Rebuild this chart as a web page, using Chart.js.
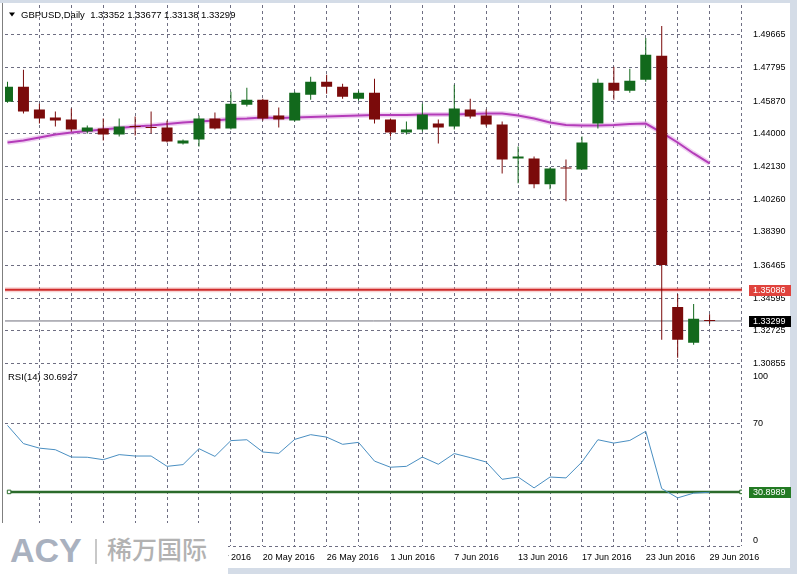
<!DOCTYPE html>
<html>
<head>
<meta charset="utf-8">
<title>GBPUSD Daily</title>
<script src="https://cdn.jsdelivr.net/npm/chart.js@4.4.1/dist/chart.umd.min.js"></script>
<style>
  html, body { margin: 0; padding: 0; background: #fff; }
  #wrap { position: relative; width: 797px; height: 574px; overflow: hidden; }
  #wrap canvas { position: absolute; left: 0; top: 0; }
  #logo { position: absolute; left: 0; top: 523px; width: 228px; height: 51px; background: #fff; }
  #logo .acy { position: absolute; left: 10px; top: 10px; font: bold 34px "Liberation Sans", Arial, sans-serif; line-height: 34px; color: #a9b1bf; }
  #logo .sep { position: absolute; left: 95px; top: 16px; width: 2px; height: 25px; background: #c8c8c8; }
  #logo .cn { position: absolute; left: 107px; top: 13px; font: 500 25px "Noto Sans CJK SC", sans-serif; line-height: 25px; color: #b2b2b2; }
</style>
</head>
<body>
<div id="wrap">
  <canvas id="chartGbp" width="797" height="574"></canvas>
  <div id="logo"><span class="acy">ACY</span><span class="sep"></span><span class="cn">稀万国际</span></div>
</div>
<script>
const symbol = "GBPUSD";
const period = "Daily";

const dates = [
    "28 Apr", "29 Apr", "2 May", "3 May", "4 May", "5 May", "6 May", "9 May", "10 May", "11 May",
    "12 May", "13 May", "16 May", "17 May", "18 May", "19 May", "20 May", "23 May", "24 May", "25 May",
    "26 May", "27 May", "30 May", "31 May", "1 Jun", "2 Jun", "3 Jun", "6 Jun", "7 Jun", "8 Jun",
    "9 Jun", "10 Jun", "13 Jun", "14 Jun", "15 Jun", "16 Jun", "17 Jun", "20 Jun", "21 Jun", "22 Jun",
    "23 Jun", "24 Jun", "27 Jun", "28 Jun", "29 Jun",
];

const opens = [
    1.45846, 1.46701, 1.4539, 1.44934, 1.4482, 1.44136, 1.44307, 1.43965, 1.44421, 1.44364,
    1.44364, 1.43452, 1.4368, 1.44877, 1.44307, 1.45675, 1.4596, 1.45048, 1.44763, 1.46245,
    1.46986, 1.46701, 1.46017, 1.46359, 1.4482, 1.44079, 1.4425, 1.44592, 1.44421, 1.4539,
    1.45048, 1.44535, 1.42597, 1.42597, 1.41115, 1.4204, 1.4197, 1.44592, 1.46929, 1.46473,
    1.471, 1.48468, 1.34104, 1.32052, 1.33352,
];
const highs = [
    1.46986, 1.4767, 1.45732, 1.45276, 1.45447, 1.44478, 1.44877, 1.44877, 1.44991, 1.45276,
    1.44763, 1.4368, 1.45048, 1.45219, 1.46416, 1.46644, 1.46017, 1.45504, 1.46416, 1.47271,
    1.47385, 1.46872, 1.46473, 1.47157, 1.44877, 1.44706, 1.45732, 1.4482, 1.46815, 1.46017,
    1.4539, 1.44706, 1.43281, 1.42711, 1.42084, 1.4254, 1.43851, 1.47157, 1.47841, 1.47727,
    1.49494, 1.50178, 1.34845, 1.34275, 1.33677,
];
const lows = [
    1.45789, 1.45162, 1.44592, 1.44421, 1.44136, 1.44022, 1.43623, 1.43851, 1.43908, 1.44022,
    1.43509, 1.43395, 1.43281, 1.4425, 1.4425, 1.45561, 1.44763, 1.44364, 1.44706, 1.4596,
    1.46302, 1.46017, 1.45903, 1.44592, 1.43851, 1.43965, 1.44136, 1.43452, 1.4425, 1.44877,
    1.44421, 1.41742, 1.41172, 1.40887, 1.4083, 1.40146, 1.4197, 1.44307, 1.4596, 1.46359,
    1.46986, 1.32223, 1.31197, 1.31938, 1.33138,
];
const closes = [
    1.46701, 1.45276, 1.44877, 1.44763, 1.4425, 1.44364, 1.43965, 1.44421, 1.444, 1.4434,
    1.43566, 1.43623, 1.44877, 1.44307, 1.45732, 1.4596, 1.44877, 1.4482, 1.46359, 1.46986,
    1.46701, 1.46131, 1.46359, 1.4482, 1.44079, 1.4425, 1.45105, 1.44364, 1.45447, 1.44991,
    1.44535, 1.4254, 1.42711, 1.41115, 1.42027, 1.42027, 1.43509, 1.46929, 1.46473, 1.47043,
    1.48525, 1.36498, 1.32223, 1.3342, 1.33299,
];

// moving average line (magenta)
const maValues = [
    1.43509, 1.43623, 1.43794, 1.43965, 1.44079, 1.44165, 1.4425, 1.44336, 1.44421, 1.44478,
    1.44564, 1.44649, 1.44706, 1.44763, 1.44849, 1.44877, 1.44934, 1.44906, 1.44934, 1.44963,
    1.44991, 1.4502, 1.45048, 1.45077, 1.45077, 1.45077, 1.45105, 1.45105, 1.45105, 1.45134,
    1.45162, 1.45162, 1.45048, 1.44877, 1.44649, 1.44507, 1.44478, 1.44478, 1.44507, 1.44564,
    1.44592, 1.44079, 1.43509, 1.42882, 1.42312,
];

const rsiPeriod = 14;
const rsiValues = [
    68.9, 58.5, 55.9, 55.0, 50.8, 50.7, 49.3, 52.2, 51.4, 51.4,
    45.5, 46.5, 55.6, 51.2, 60.2, 60.7, 53.7, 52.9, 60.9, 63.6,
    62.2, 58.1, 59.2, 48.5, 45.0, 45.5, 50.8, 46.7, 52.8, 50.5,
    48.0, 38.1, 39.4, 33.2, 39.4, 38.9, 48.0, 60.7, 58.8, 60.3,
    65.5, 32.8, 27.5, 30.2, 30.6927,
];

const priceTicks = [1.49665, 1.47795, 1.4587, 1.44, 1.4213, 1.4026, 1.3839, 1.36465, 1.34595, 1.32725, 1.30855];
const rsiTicks = [0, 70, 100];
const rsiLevel = 30.8989;
const redLevel = 1.35086;
const lastPrice = closes[closes.length - 1];

const X_MIN = -0.15625;
const X_MAX = 46.03125;
const PRICE_MIN = 1.30684;
const PRICE_MAX = 1.51375;
const RSI_MAX = 102.45;

const upColor = "#12691c";
const downColor = "#7b0b0b";
const gridColor = "#6e6e82";
const labelFont = { family: "Liberation Sans", size: 9 };

document.addEventListener("DOMContentLoaded", () => {
    renderChart();
});

const drawTag = (ctx, y, text, bg, fg) => {
    ctx.fillStyle = bg;
    ctx.fillRect(749, Math.round(y) - 5, 42, 11);
    ctx.fillStyle = fg;
    ctx.font = '9px "Liberation Sans"';
    ctx.textBaseline = "middle";
    ctx.textAlign = "left";
    ctx.fillText(text, 753, Math.round(y) + 0.5);
};

const overlay = {
    id: "overlay",
    beforeDraw(chart) {
        const { ctx, width, height } = chart;
        ctx.save();
        ctx.fillStyle = "#d4dce7";
        ctx.fillRect(0, 0, width, height);
        ctx.fillStyle = "#ffffff";
        ctx.fillRect(0, 3, 790, 565);
        ctx.restore();
    },
    afterDraw(chart) {
        const ctx = chart.ctx;
        const yP = chart.scales.yPrice;
        const yR = chart.scales.yRsi;
        const last = opens.length - 1;
        ctx.save();
        // left frame line
        ctx.fillStyle = "#7f7f7f";
        ctx.fillRect(2, 3, 1, 565);

        // header
        ctx.fillStyle = "#000";
        ctx.beginPath();
        ctx.moveTo(9, 12.5);
        ctx.lineTo(15, 12.5);
        ctx.lineTo(12, 16.5);
        ctx.closePath();
        ctx.fill();
        ctx.font = '9.5px "Liberation Sans"';
        ctx.textBaseline = "middle";
        const ohlc = [opens[last], highs[last], lows[last], closes[last]].map((v) => v.toFixed(5)).join(" ");
        ctx.fillText(`${symbol},${period}  ${ohlc}`, 21, 15);
        ctx.fillText(`RSI(${rsiPeriod}) ${rsiValues[last].toFixed(4)}`, 8, 377);

        // price tags on the axis
        drawTag(ctx, yP.getPixelForValue(redLevel), redLevel.toFixed(5), "#e0433d", "#ffffff");
        drawTag(ctx, yP.getPixelForValue(lastPrice), lastPrice.toFixed(5), "#000000", "#ffffff");
        drawTag(ctx, yR.getPixelForValue(rsiLevel), rsiLevel.toFixed(4), "#237a23", "#ffffff");
        ctx.restore();
    },
};

function renderChart() {
    const canvas = document.getElementById("chartGbp");
    const ctx = canvas.getContext("2d");

    const candleColors = opens.map((o, i) => (closes[i] > o ? upColor : downColor));
    const flatLine = (v) => [{ x: X_MIN, y: v }, { x: X_MAX, y: v }];

    const barBase = {
        type: "bar",
        yAxisID: "yPrice",
        grouped: false,
        borderWidth: 0,
        inflateAmount: 0,
        backgroundColor: candleColors,
    };

    new Chart(ctx, {
        type: "bar",
        data: {
            datasets: [
                {
                    ...barBase,
                    label: "body",
                    data: opens.map((o, i) => ({ x: i, y: [o, closes[i]] })),
                    barThickness: 11,
                    minBarLength: 1,
                    order: 1,
                },
                {
                    ...barBase,
                    label: "wick",
                    data: opens.map((o, i) => ({ x: i, y: [lows[i], highs[i]] })),
                    barThickness: 1,
                    order: 2,
                },
                {
                    type: "line",
                    label: "MA",
                    yAxisID: "yPrice",
                    data: maValues.map((v, i) => ({ x: i, y: v })),
                    borderColor: "#b43cb9",
                    borderWidth: 2,
                    pointRadius: 0,
                    order: 3,
                },
                {
                    type: "line",
                    label: "MA glow",
                    yAxisID: "yPrice",
                    data: maValues.map((v, i) => ({ x: i, y: v })),
                    borderColor: "rgba(220,150,225,0.45)",
                    borderWidth: 5,
                    pointRadius: 0,
                    order: 4,
                },
                {
                    type: "line",
                    label: "level",
                    yAxisID: "yPrice",
                    data: flatLine(redLevel),
                    borderColor: "#cf2b2b",
                    borderWidth: 2,
                    pointRadius: 0,
                    order: 5,
                },
                {
                    type: "line",
                    label: "level glow",
                    yAxisID: "yPrice",
                    data: flatLine(redLevel),
                    borderColor: "rgba(235,130,130,0.35)",
                    borderWidth: 5,
                    pointRadius: 0,
                    order: 6,
                },
                {
                    type: "line",
                    label: "last",
                    yAxisID: "yPrice",
                    data: flatLine(lastPrice),
                    borderColor: "#70707c",
                    borderWidth: 1,
                    pointRadius: 0,
                    order: 5,
                },
                {
                    type: "line",
                    label: "RSI level",
                    yAxisID: "yRsi",
                    data: [{ x: 0.1, y: rsiLevel }, { x: 46, y: rsiLevel }],
                    borderColor: "#2b6b2b",
                    borderWidth: 2.5,
                    pointStyle: "rect",
                    pointRadius: 2.5,
                    pointBackgroundColor: "#ffffff",
                    pointBorderColor: "#2b6b2b",
                    pointBorderWidth: 1,
                    order: 2,
                },
                {
                    type: "line",
                    label: "RSI",
                    yAxisID: "yRsi",
                    data: rsiValues.map((v, i) => ({ x: i, y: v })),
                    borderColor: "#4a8fc2",
                    borderWidth: 1,
                    pointRadius: 0,
                    order: 1,
                },
            ],
        },
        options: {
            responsive: false,
            animation: false,
            devicePixelRatio: 1,
            layout: { padding: { left: 3, top: 3, right: 7, bottom: 6 } },
            plugins: {
                legend: { display: false },
                tooltip: { enabled: false },
            },
            scales: {
                x: {
                    type: "linear",
                    position: "bottom",
                    min: X_MIN,
                    max: X_MAX,
                    offset: false,
                    afterBuildTicks: (scale) => {
                        const ticks = [];
                        for (let v = 2; v <= 46; v += 2) ticks.push({ value: v });
                        scale.ticks = ticks;
                    },
                    afterFit: (scale) => {
                        scale.height = 22;
                        scale.paddingLeft = 0;
                        scale.paddingRight = 0;
                    },
                    ticks: {
                        autoSkip: false,
                        maxRotation: 0,
                        align: "start",
                        padding: 6,
                        color: "#000",
                        font: labelFont,
                        callback: (value) => (value % 4 === 0 && dates[value] ? `${dates[value]} 2016` : ""),
                    },
                    grid: { offset: false, drawTicks: false, color: gridColor, lineWidth: 1 },
                    border: { display: false, dash: [3, 3] },
                },
                yPrice: {
                    type: "linear",
                    position: "right",
                    stack: "panes",
                    stackWeight: 363,
                    min: PRICE_MIN,
                    max: PRICE_MAX,
                    afterBuildTicks: (scale) => {
                        scale.ticks = priceTicks.map((v) => ({ value: v }));
                    },
                    afterFit: (scale) => {
                        scale.width = 48;
                        scale.paddingTop = 0;
                        scale.paddingBottom = 0;
                    },
                    ticks: {
                        autoSkip: false,
                        padding: 11,
                        color: "#000",
                        font: labelFont,
                        callback: (value) => Number(value).toFixed(5),
                    },
                    grid: { drawTicks: false, color: gridColor },
                    border: { display: false, dash: [3, 3] },
                },
                yRsi: {
                    type: "linear",
                    position: "right",
                    stack: "panes",
                    stackWeight: 180,
                    min: 0,
                    max: RSI_MAX,
                    afterBuildTicks: (scale) => {
                        scale.ticks = rsiTicks.map((v) => ({ value: v }));
                    },
                    afterFit: (scale) => {
                        scale.width = 48;
                        scale.paddingTop = 0;
                        scale.paddingBottom = 0;
                    },
                    ticks: {
                        autoSkip: false,
                        padding: 11,
                        color: "#000",
                        font: labelFont,
                        // edge labels sit inside the pane, like the terminal does
                        callback: (value) => {
                            if (value === 100) return ["", "100"];
                            if (value === 0) return ["0", ""];
                            return String(value);
                        },
                    },
                    grid: {
                        drawTicks: false,
                        color: (c) => (c.tick && (c.tick.value === 70 || c.tick.value === 0) ? gridColor : "rgba(0,0,0,0)"),
                    },
                    border: { display: false, dash: [3, 3] },
                },
            },
        },
        plugins: [overlay],
    });
}
</script>
</body>
</html>
